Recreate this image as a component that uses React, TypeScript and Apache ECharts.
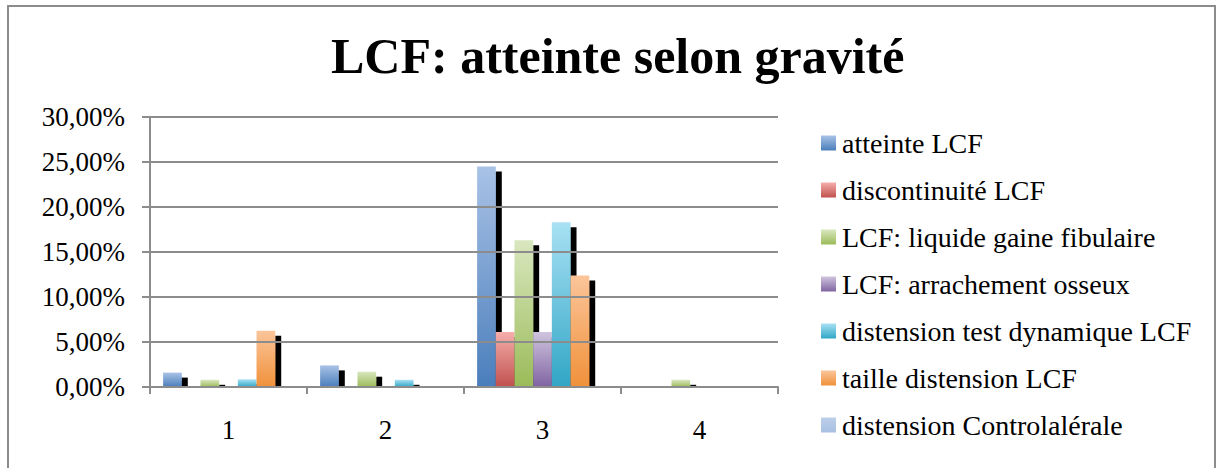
import React, { useEffect, useRef } from "react";
import * as echarts from "echarts";

const categories = ["1", "2", "3", "4"];
const seriesNames = [
  "atteinte LCF",
  "discontinuité LCF",
  "LCF: liquide gaine fibulaire",
  "LCF: arrachement osseux",
  "distension test dynamique LCF",
  "taille distension LCF",
  "distension Controlalérale",
];
const atteinteLCF = [1.6, 2.4, 24.5, 0];
const discontinuiteLCF = [0, 0, 6.1, 0];
const liquideGaine = [0.8, 1.7, 16.3, 0.8];
const arrachementOsseux = [0, 0, 6.1, 0];
const distensionTest = [0.85, 0.8, 18.3, 0];
const tailleDistension = [6.25, 0, 12.4, 0];
const distensionControlaterale = [0, 0, 0, 0];
const yTicks = [0, 5, 10, 15, 20, 25, 30];

const seriesData = [
  atteinteLCF,
  discontinuiteLCF,
  liquideGaine,
  arrachementOsseux,
  distensionTest,
  tailleDistension,
  distensionControlaterale,
];
const gradients: [string, string][] = [
  ["#a9c2e6", "#4a7ebb"],
  ["#f5aeab", "#c0504d"],
  ["#d9e7bf", "#9bbb59"],
  ["#cfc4de", "#8064a2"],
  ["#a8e1f3", "#31a6c6"],
  ["#fbc59a", "#f0913a"],
  ["#bccfea", "#a9c0e2"],
];

const FONT = "'Liberation Serif', 'Times New Roman', serif";

export default function App() {
  const ref = useRef<HTMLDivElement>(null);
  useEffect(() => {
    if (!ref.current) return;
    const chart = echarts.init(ref.current, undefined, { renderer: "svg" });
    const series = seriesNames.map((name, i) => ({
      name,
      type: "bar",
      data: seriesData[i],
      barGap: "0%",
      barCategoryGap: "16.7%",
      itemStyle: {
        color: new echarts.graphic.LinearGradient(0, 0, 0, 1, [
          { offset: 0, color: gradients[i][0] },
          { offset: 1, color: gradients[i][1] },
        ]),
        shadowColor: "#000000",
        shadowBlur: 0,
        shadowOffsetX: 6,
        shadowOffsetY: 5,
      },
    }));
    chart.setOption({
      animation: false,
      backgroundColor: "#ffffff",
      title: {
        text: "LCF: atteinte selon gravité",
        left: 331,
        top: 31,
        padding: 0,
        textStyle: {
          fontFamily: FONT,
          fontWeight: "bold",
          fontSize: 50,
          color: "#000000",
        },
      },
      legend: {
        orient: "vertical",
        left: 821,
        top: 128,
        padding: 0,
        icon: "rect",
        itemWidth: 15,
        itemHeight: 15,
        itemGap: 17,
        textStyle: {
          fontFamily: FONT,
          fontSize: 28,
          lineHeight: 30,
          color: "#000000",
          padding: [0, 0, 0, 1],
        },
        data: seriesNames,
      },
      grid: { left: 150, right: 438, top: 117, bottom: 81, containLabel: false },
      xAxis: {
        type: "category",
        data: categories,
        z: 10,
        axisLine: { show: true, lineStyle: { color: "#8c8c8c", width: 2 } },
        axisTick: { show: true, length: 7, lineStyle: { color: "#8c8c8c", width: 2 } },
        axisLabel: {
          margin: 29,
          fontFamily: FONT,
          fontSize: 27,
          color: "#000000",
        },
        splitLine: { show: false },
      },
      yAxis: {
        type: "value",
        min: yTicks[0],
        max: yTicks[yTicks.length - 1],
        interval: 5,
        z: 10,
        axisLine: { show: true, lineStyle: { color: "#8c8c8c", width: 2 } },
        axisTick: { show: true, length: 8, lineStyle: { color: "#8c8c8c", width: 2 } },
        axisLabel: {
          margin: 25,
          fontFamily: FONT,
          fontSize: 27,
          color: "#000000",
          formatter: (v: number) => v.toFixed(2).replace(".", ",") + "%",
        },
        splitLine: { show: true, lineStyle: { color: "#8c8c8c", width: 2 } },
      },
      graphic: [
        {
          type: "rect",
          z: -1,
          shape: { x: 8, y: 6, width: 1207, height: 480 },
          style: { fill: "none", stroke: "#8c8c8c", lineWidth: 2 },
          silent: true,
        },
        {
          type: "rect",
          z: 5,
          shape: { x: 151, y: 388, width: 640, height: 8 },
          style: { fill: "#ffffff" },
          silent: true,
        },
      ],
      series,
    });
    return () => chart.dispose();
  }, []);
  return (
    <div
      ref={ref}
      style={{ position: "absolute", left: 0, top: 0, width: 1216, height: 468 }}
    />
  );
}
